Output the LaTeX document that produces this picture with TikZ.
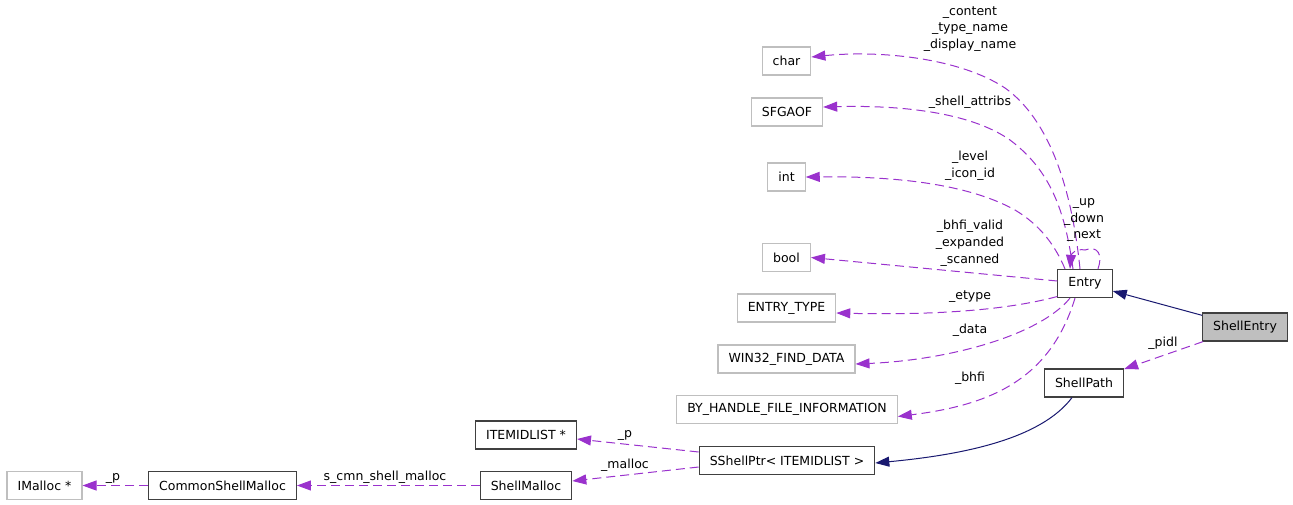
\documentclass[tikz,border=0pt]{standalone}
\usepackage{fontspec}
\setmainfont{DejaVu Sans}
\usetikzlibrary{arrows.meta}
\definecolor{edgepurple}{HTML}{9A32CD}
\definecolor{edgenavy}{HTML}{191970}
\definecolor{boxgray}{HTML}{BFBFBF}
\definecolor{boxline}{HTML}{404040}
\begin{document}
\begin{tikzpicture}[x=1pt,y=-1pt,font=\fontsize{12.5}{16.8}\selectfont,
    cls/.style={draw=boxline,line width=1.2pt,minimum height=28pt,inner xsep=10.5pt,inner ysep=0pt},
    ext/.style={cls,draw=boxgray},
    usage/.style={edgepurple,line width=1pt,dash pattern=on 9pt off 5pt,-{Triangle[length=14pt,width=10pt]}},
    inherit/.style={edgenavy,line width=1pt,-{Triangle[length=14pt,width=10pt]}},
    lbl/.style={align=center,inner sep=0pt}]
            \useasboundingbox (0,0) rectangle (1293,504);
            \node[ext] (char) at (786.5,61) {char};
            \node[ext] (sfgaof) at (787,112) {SFGAOF};
            \node[ext] (int) at (786.5,177) {int};
            \node[ext] (bool) at (786.5,257.5) {bool};
            \node[ext] (etype) at (786.5,308) {ENTRY\_TYPE};
            \node[ext] (finddata) at (786.5,359) {WIN32\_FIND\_DATA};
            \node[ext] (fileinfo) at (787,409.5) {BY\_HANDLE\_FILE\_INFORMATION};
            \node[cls] (entry) at (1085,283.5) {Entry};
            \node[cls,fill=boxgray] (shellentry) at (1245,327) {ShellEntry};
            \node[cls] (shellpath) at (1084,383) {ShellPath};
            \node[cls] (idlist) at (526,435) {ITEMIDLIST *};
            \node[cls] (shellptr) at (787,460.5) {SShellPtr< ITEMIDLIST >};
            \node[cls] (shellmalloc) at (526,485.5) {ShellMalloc};
            \node[cls] (commonmalloc) at (222.5,485.5) {CommonShellMalloc};
            \node[ext] (imalloc) at (44.5,485.5) {IMalloc *};
            \coordinate (up) at (1085,250);
            \draw[usage] ([xshift=-5pt]entry.north) .. controls (1072,190) and (1050,120) .. (1005,88)
                .. controls (960,58) and (880,50) .. ([yshift=4pt]char.east);
            \draw[usage] ([xshift=-12pt]entry.north) .. controls (1065,210) and (1050,170) .. (1010,140)
                .. controls (970,112) and (900,105) .. ([yshift=5pt]sfgaof.east);
            \draw[usage] ([xshift=-20pt]entry.north) .. controls (1055,245) and (1040,225) .. (1015,210)
                .. controls (970,185) and (900,176) .. (int.east);
            \draw[usage] ([xshift=13pt]entry.north) .. controls (1103,255) and (1098,245) .. (up)
                .. controls (1075,248) and (1071,255) .. ([xshift=-15pt]entry.north);
            \draw[usage] ([yshift=2.5pt]entry.west) -- (bool.east);
            \draw[usage] ([yshift=-13pt]entry.west) .. controls (1000,312) and (920,315) .. ([yshift=-5pt]etype.east);
            \draw[usage] ([xshift=-15pt]entry.south) .. controls (1040,335) and (950,360) .. ([yshift=-5pt]finddata.east);
            \draw[usage] ([xshift=-10pt]entry.south) .. controls (1050,380) and (990,405) .. ([yshift=-7pt]fileinfo.east);
            \draw[inherit] (shellentry) -- (entry);
            \draw[usage] (shellentry) -- (shellpath);
            \draw[inherit] ([xshift=-12pt]shellpath.south) .. controls (1040,440) and (960,455) .. ([yshift=-2.5pt]shellptr.east);
            \draw[usage] ([yshift=8.5pt]shellptr.west) -- ([yshift=-4pt]idlist.east);
            \draw[usage] ([yshift=-6.5pt]shellptr.west) -- ([yshift=4.5pt]shellmalloc.east);
            \draw[usage] (shellmalloc) -- (commonmalloc);
            \draw[usage] (commonmalloc) -- (imalloc);
            \node[lbl] (l-char) at (970,29) {\_content\\\_type\_name\\\_display\_name};
            \node[lbl] (l-sfgaof) at (970,102) {\_shell\_attribs};
            \node[lbl] (l-int) at (970,165.5) {\_level\\\_icon\_id};
            \node[lbl] (l-up) at (1084,220) {\_up\\\_down\\\_next};
            \node[lbl] (l-bool) at (970,243.5) {\_bhfi\_valid\\\_expanded\\\_scanned};
            \node[lbl] (l-etype) at (970,297) {\_etype};
            \node[lbl] (l-data) at (970,330) {\_data};
            \node[lbl] (l-bhfi) at (970,378) {\_bhfi};
            \node[lbl] (l-pidl) at (1163,343) {\_pidl};
            \node[lbl] (l-p) at (625,435) {\_p};
            \node[lbl] (l-malloc) at (625,465) {\_malloc};
            \node[lbl] (l-cmn) at (385,477) {s\_cmn\_shell\_malloc};
            \node[lbl] (l-imp) at (113,478) {\_p};
        \end{tikzpicture}
\end{document}
